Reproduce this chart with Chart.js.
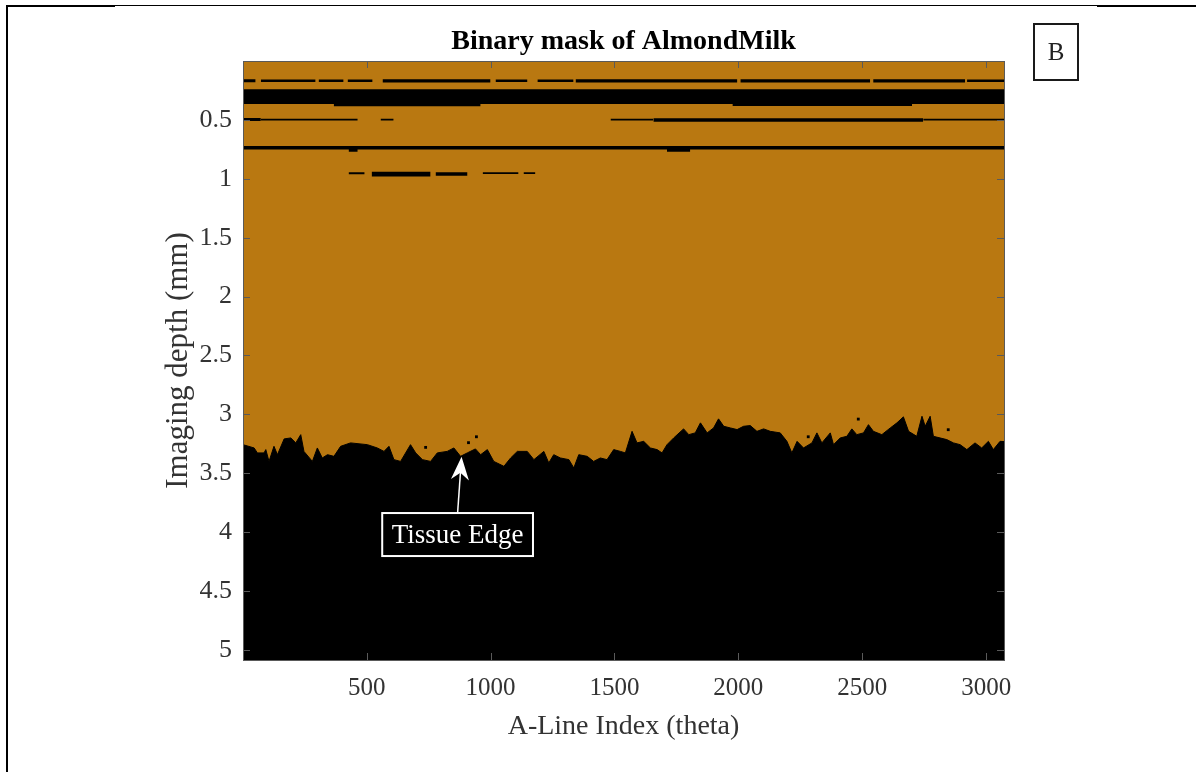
<!DOCTYPE html>
<html>
<head>
<meta charset="utf-8">
<title>Binary mask of AlmondMilk</title>
<script src="https://cdn.jsdelivr.net/npm/chart.js@4.4.1/dist/chart.umd.min.js"></script>
<style>
  html, body { margin: 0; padding: 0; background: #fff; }
  #wrap { position: relative; width: 1196px; height: 772px; overflow: hidden; }
  #mask-chart { position: absolute; left: 0; top: 0; }
  .rule { position: absolute; background: #000; }
  #panel-tag {
    position: absolute; left: 1033px; top: 23px; width: 42px; height: 54px;
    border: 2px solid #1a1a1a; font: 25px "Liberation Serif", "Times New Roman", serif;
    color: #222; text-align: center; line-height: 54px;
  }
</style>
</head>
<body>
<div id="wrap">
  <canvas id="mask-chart" width="1196" height="772"></canvas>
  <div class="rule" style="left:6px;top:5px;width:2px;height:767px"></div>
  <div class="rule" style="left:6px;top:5px;width:1190px;height:1px"></div>
  <div class="rule" style="left:6px;top:5px;width:109px;height:2px"></div>
  <div class="rule" style="left:1097px;top:5px;width:99px;height:2px"></div>
  <div id="panel-tag">B</div>
</div>
<script>
const FONT = '"Liberation Serif", "Times New Roman", serif';
const ORANGE = '#B97811';
const INK = '#333333';

// axis extents (A-line index, depth in mm)
const xMin = 1, xMax = 3072;
const depthMax = 5.085;
const xTicks = [500, 1000, 1500, 2000, 2500, 3000];
const yTicks = [0.5, 1, 1.5, 2, 2.5, 3, 3.5, 4, 4.5, 5];

// tissue edge: depth (mm) of the mask boundary along the A-lines
const edgeX = [1, 46, 59, 86, 93, 106, 126, 140, 167, 194, 214, 234, 247, 281, 301, 321, 342, 368, 395, 435,
  503, 543, 570, 590, 610, 637, 677, 698, 725, 758, 785, 825, 852, 879, 906, 939, 960, 987, 1013, 1054,
  1081, 1108, 1148, 1175, 1215, 1235, 1255, 1282, 1316, 1336, 1356, 1390, 1416, 1443, 1470, 1497, 1524, 1544, 1571, 1591,
  1618, 1645, 1672, 1692, 1712, 1739, 1779, 1800, 1826, 1847, 1874, 1900, 1920, 1941, 1968, 1995, 2021, 2048, 2075, 2102,
  2129, 2169, 2196, 2216, 2237, 2263, 2297, 2317, 2337, 2371, 2384, 2411, 2438, 2458, 2478, 2505, 2525, 2545, 2579, 2613,
  2640, 2666, 2687, 2720, 2741, 2754, 2774, 2787, 2841, 2868, 2895, 2922, 2955, 2982, 3009, 3029, 3056, 3072];
const edgeDepth = [3.257, 3.285, 3.327, 3.327, 3.299, 3.399, 3.271, 3.342, 3.208, 3.200, 3.242, 3.172, 3.314, 3.399, 3.285, 3.370, 3.342, 3.356, 3.271, 3.242,
  3.257, 3.285, 3.314, 3.271, 3.384, 3.399, 3.257, 3.327, 3.384, 3.399, 3.327, 3.314, 3.285, 3.356, 3.327, 3.293, 3.342, 3.299, 3.399, 3.441,
  3.370, 3.314, 3.314, 3.384, 3.314, 3.412, 3.342, 3.370, 3.384, 3.455, 3.342, 3.356, 3.399, 3.370, 3.384, 3.299, 3.314, 3.327, 3.144, 3.242,
  3.229, 3.285, 3.299, 3.327, 3.257, 3.200, 3.123, 3.172, 3.157, 3.072, 3.157, 3.115, 3.038, 3.101, 3.115, 3.129, 3.101, 3.095, 3.144, 3.123,
  3.144, 3.157, 3.229, 3.327, 3.229, 3.285, 3.242, 3.157, 3.242, 3.157, 3.257, 3.200, 3.186, 3.123, 3.172, 3.157, 3.087, 3.144, 3.172, 3.115,
  3.072, 3.021, 3.144, 3.186, 3.016, 3.101, 3.016, 3.186, 3.214, 3.242, 3.257, 3.299, 3.242, 3.285, 3.229, 3.299, 3.229, 3.231];

// horizontal black bands near the surface: A-line range and depth range (mm)
const bandStart  = [1, 73, 306, 423, 564, 1020, 1189, 1343, 2008, 2544, 2923,
  1, 367, 1976,
  1, 73, 556, 1484, 1657, 2746,
  1, 427, 1712,
  427, 520, 778, 968, 1133];
const bandEnd    = [52, 294, 407, 524, 1000, 1149, 1335, 1996, 2532, 2915, 3072,
  3072, 960, 2701,
  73, 464, 609, 1657, 2746, 3072,
  3072, 464, 1806,
  492, 758, 907, 1113, 1181];
const bandTop    = [0.155, 0.158, 0.158, 0.158, 0.155, 0.158, 0.158, 0.155, 0.155, 0.155, 0.158,
  0.240, 0.360, 0.360,
  0.483, 0.490, 0.490, 0.490, 0.487, 0.490,
  0.722, 0.722, 0.722,
  0.945, 0.940, 0.945, 0.945, 0.945];
const bandBottom = [0.180, 0.178, 0.178, 0.178, 0.182, 0.178, 0.178, 0.182, 0.182, 0.182, 0.178,
  0.365, 0.385, 0.382,
  0.510, 0.505, 0.505, 0.505, 0.515, 0.505,
  0.752, 0.770, 0.770,
  0.962, 0.980, 0.975, 0.960, 0.960];

// isolated specks above the edge, and one unmasked hole below it
const speckX = [738, 911, 943, 2282, 2484, 2847];
const speckDepth = [3.28, 3.24, 3.19, 3.19, 3.04, 3.13];
const holeX = [2943];
const holeDepth = [3.36];

// annotation
const noteText = 'Tissue Edge';
const noteAt = [867, 4.02];
const arrowTip = [883, 3.36];

const datasets = [];
datasets.push({
  label: 'edge',
  data: edgeX.map((x, i) => ({ x: x, y: edgeDepth[i] })),
  borderColor: '#000',
  borderWidth: 1,
  backgroundColor: '#000',
  fill: { value: depthMax },
  pointRadius: 0,
  tension: 0
});
bandStart.forEach((x0, i) => {
  datasets.push({
    label: 'band' + i,
    data: [{ x: x0, y: bandBottom[i] }, { x: bandEnd[i], y: bandBottom[i] }],
    borderWidth: 0,
    borderColor: 'rgba(0,0,0,0)',
    backgroundColor: '#000',
    fill: { value: bandTop[i] },
    pointRadius: 0
  });
});
datasets.push({
  label: 'specks',
  data: speckX.map((x, i) => ({ x: x, y: speckDepth[i] })),
  showLine: false,
  pointStyle: 'rect',
  pointRadius: 2,
  pointBackgroundColor: '#000',
  pointBorderWidth: 0
});
datasets.push({
  label: 'holes',
  data: holeX.map((x, i) => ({ x: x, y: holeDepth[i] })),
  showLine: false,
  pointStyle: 'rect',
  pointRadius: 3,
  pointBackgroundColor: ORANGE,
  pointBorderWidth: 0
});

const maskBackground = {
  id: 'maskBackground',
  beforeDraw(chart) {
    const { ctx, chartArea: a } = chart;
    ctx.save();
    ctx.fillStyle = ORANGE;
    ctx.fillRect(a.left, a.top, a.right - a.left, a.bottom - a.top);
    ctx.restore();
  }
};

// MATLAB-style box with inward ticks on all four sides
const axesBox = {
  id: 'axesBox',
  afterDatasetsDraw(chart) {
    const { ctx, chartArea: a, scales } = chart;
    const len = 7;
    ctx.save();
    ctx.strokeStyle = '#5a5a5a';
    ctx.lineWidth = 1;
    ctx.beginPath();
    xTicks.forEach(v => {
      const px = Math.round(scales.x.getPixelForValue(v)) + 0.5;
      ctx.moveTo(px, a.bottom); ctx.lineTo(px, a.bottom - len);
      ctx.moveTo(px, a.top); ctx.lineTo(px, a.top + len);
    });
    yTicks.forEach(v => {
      const py = Math.round(scales.y.getPixelForValue(v)) + 0.5;
      ctx.moveTo(a.left, py); ctx.lineTo(a.left + len, py);
      ctx.moveTo(a.right, py); ctx.lineTo(a.right - len, py);
    });
    ctx.stroke();
    ctx.strokeRect(Math.round(a.left) + 0.5, Math.round(a.top) + 0.5,
      Math.round(a.right - a.left), Math.round(a.bottom - a.top));
    ctx.restore();
  }
};

const edgeNote = {
  id: 'edgeNote',
  afterDraw(chart) {
    const { ctx, scales } = chart;
    const cx = scales.x.getPixelForValue(noteAt[0]);
    const cy = scales.y.getPixelForValue(noteAt[1]);
    const tx = scales.x.getPixelForValue(arrowTip[0]);
    const ty = scales.y.getPixelForValue(arrowTip[1]);
    ctx.save();
    ctx.font = '27px ' + FONT;
    const w = ctx.measureText(noteText).width + 19;
    const h = 43;
    ctx.strokeStyle = '#fff';
    ctx.fillStyle = '#fff';
    ctx.lineWidth = 2;
    ctx.strokeRect(cx - w / 2, cy - h / 2, w, h);
    ctx.textAlign = 'center';
    ctx.textBaseline = 'middle';
    ctx.fillText(noteText, cx, cy + 1);

    // arrow from the box up to the edge
    const sx = cx, sy = cy - h / 2;
    const dx = tx - sx, dy = ty - sy;
    const d = Math.hypot(dx, dy);
    const ux = dx / d, uy = dy / d;
    const head = 23, half = 9;
    ctx.lineWidth = 1.5;
    ctx.beginPath();
    ctx.moveTo(sx, sy);
    ctx.lineTo(tx - ux * 14, ty - uy * 14);
    ctx.stroke();
    ctx.beginPath();
    ctx.moveTo(tx, ty);
    ctx.lineTo(tx - ux * head - uy * half, ty - uy * head + ux * half);
    ctx.lineTo(tx - ux * 16, ty - uy * 16);
    ctx.lineTo(tx - ux * head + uy * half, ty - uy * head - ux * half);
    ctx.closePath();
    ctx.fill();
    ctx.restore();
  }
};

new Chart(document.getElementById('mask-chart'), {
  type: 'line',
  data: { datasets: datasets },
  plugins: [maskBackground, axesBox, edgeNote],
  options: {
    responsive: false,
    animation: false,
    events: [],
    layout: { padding: { left: 0, right: 192, top: 0, bottom: 0 } },
    plugins: {
      legend: { display: false },
      tooltip: { enabled: false },
      title: {
        display: true,
        fullSize: false,
        text: 'Binary mask of AlmondMilk',
        color: '#000',
        font: { family: FONT, size: 28, weight: 'bold' },
        padding: { top: 25, bottom: 2.4 }
      }
    },
    scales: {
      x: {
        type: 'linear',
        min: xMin,
        max: xMax,
        afterFit: s => { s.height = 112; },
        afterBuildTicks: s => { s.ticks = xTicks.map(v => ({ value: v })); },
        grid: { display: false, drawTicks: false },
        border: { display: false },
        ticks: {
          color: INK,
          padding: 13,
          maxRotation: 0,
          font: { family: FONT, size: 25 },
          callback: v => String(v)
        },
        title: {
          display: true,
          text: 'A-Line Index (theta)',
          color: INK,
          font: { family: FONT, size: 28 },
          padding: { top: 0, bottom: 29 }
        }
      },
      y: {
        type: 'linear',
        reverse: true,
        min: 0,
        max: depthMax,
        afterFit: s => { s.width = 243; },
        afterBuildTicks: s => { s.ticks = yTicks.map(v => ({ value: v })); },
        grid: { display: false, drawTicks: false },
        border: { display: false },
        ticks: {
          color: INK,
          padding: 11,
          font: { family: FONT, size: 26 },
          callback: v => String(v)
        },
        title: {
          display: true,
          text: 'Imaging depth (mm)',
          color: INK,
          font: { family: FONT, size: 31 },
          padding: { top: 160, bottom: 0 }
        }
      }
    }
  }
});
</script>
</body>
</html>
